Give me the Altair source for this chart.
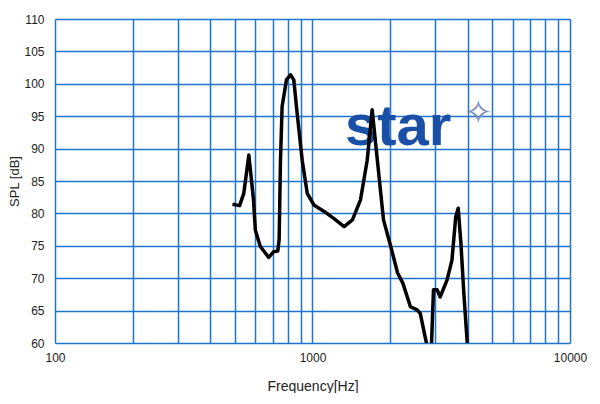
import altair as alt
import pandas as pd

freq = [489, 521, 541, 566, 590, 600, 627, 676, 707, 733, 742, 751, 762, 792, 821, 846, 872, 912, 954,
        1012, 1110, 1212, 1327, 1429, 1536, 1631, 1705, 1786, 1887, 2013, 2140, 2245, 2400, 2550, 2620,
        2720, 2770, 2830, 2900, 2950, 3050, 3130, 3330, 3480, 3600, 3680, 3770, 3870, 3990, 4050]
spl = [81.4, 81.2, 83.1, 89.0, 82.1, 77.4, 74.9, 73.2, 74.1, 74.2, 75.9, 88.2, 96.5, 100.6, 101.4, 100.6, 95.4, 88.2, 83.1,
       81.3, 80.3, 79.2, 77.95, 79.0, 82.1, 88.2, 96.0, 88.2, 79.0, 74.9, 70.8, 69.2, 65.6, 65.1, 64.6,
       61.5, 60.0, 57.0, 60.0, 68.2, 68.2, 67.1, 69.7, 72.8, 79.5, 80.8, 75.4, 67.7, 60.0, 57.0]

grid_values = [100, 200, 300, 400, 500, 600, 700, 800, 900,
               1000, 2000, 3000, 4000, 5000, 6000, 7000, 8000, 9000, 10000]
y_values = [60, 65, 70, 75, 80, 85, 90, 95, 100, 105, 110]

df = pd.DataFrame({"f": freq, "spl": spl})
logo = pd.DataFrame({"f": [2150], "spl": [90.6], "t": ["star"]})
logo2 = pd.DataFrame({"f": [4400], "spl": [95.4], "t": ["✧"]})

FONT = "Liberation Sans"
GRID = "#1f74cf"

xscale = alt.Scale(type="log", domain=[100, 10000], nice=False)
yscale = alt.Scale(domain=[60, 110], nice=False)

xaxis = alt.Axis(values=grid_values, title="Frequency[Hz]",
                 labelExpr="(datum.value == 100 || datum.value == 1000 || datum.value == 10000) ? datum.label : ''",
                 format="d", grid=True, gridColor=GRID, gridWidth=1.5, gridOpacity=1,
                 ticks=False, domain=False, labelPadding=9, labelFont=FONT, labelFontSize=12,
                 labelColor="#222", titleFont=FONT, titleFontSize=14, titleFontWeight="normal",
                 titlePadding=16, titleColor="#222", labelFlush=False, labelOverlap=False)
yaxis = alt.Axis(values=y_values, title="SPL [dB]", grid=True, gridColor=GRID,
                 gridWidth=1.5, gridOpacity=1, ticks=False, domain=False, labelPadding=11,
                 labelFont=FONT, labelFontSize=12, labelColor="#222", titleFont=FONT,
                 titleFontSize=13, titleFontWeight="normal", titlePadding=2, titleColor="#222",
                 labelOverlap=False, labelFlush=False)

X = alt.X("f:Q", scale=xscale, axis=xaxis)
Y = alt.Y("spl:Q", scale=yscale, axis=yaxis)

line = alt.Chart(df).mark_line(color="black", strokeWidth=3.5, clip=True, strokeJoin="round").encode(x=X, y=Y)

logo_text = alt.Chart(logo).mark_text(font=FONT, fontSize=58, fontWeight="bold", color="#1a4fa8",
                                      baseline="alphabetic", align="center").encode(x=X, y=Y, text="t:N")
logo_star = alt.Chart(logo2).mark_text(font="DejaVu Sans", fontSize=34, color="#7a8fb8",
                                       baseline="middle", align="center").encode(x=X, y=Y, text="t:N")

chart = alt.layer(logo_text, logo_star, line).properties(
    width=515, height=324,
    autosize=alt.AutoSizeParams(type="none"),
    padding={"left": 47, "top": 11, "right": 20, "bottom": 50},
).configure_view(stroke="black", strokeWidth=2.5).configure(background="white")

chart.save("out.html", embed_options={"renderer": "svg", "actions": False})
